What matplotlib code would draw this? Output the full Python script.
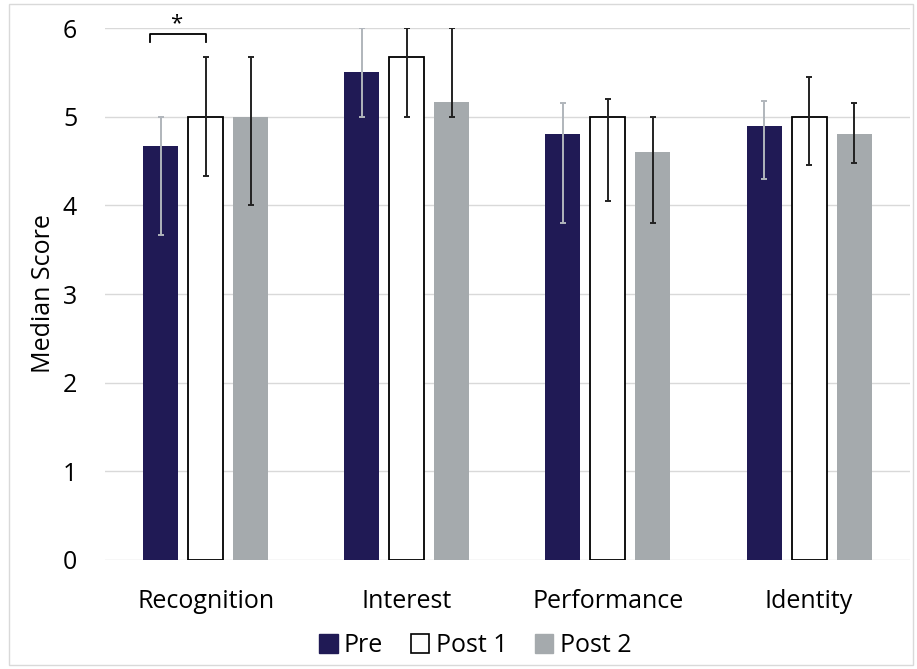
"""Grouped bar chart of median scores before and after the course."""

import matplotlib.pyplot as plt
import numpy as np
from matplotlib.patches import Patch, Rectangle

# Median scores per construct, with the range drawn as error bars.
categories = ["Recognition", "Interest", "Performance", "Identity"]
series = ["Pre", "Post 1", "Post 2"]

pre = [4.67, 5.5, 4.8, 4.9]
pre_low = [3.67, 5.0, 3.8, 4.3]
pre_high = [5.0, 6.0, 5.15, 5.18]

post1 = [5.0, 5.67, 5.0, 5.0]
post1_low = [4.33, 5.0, 4.05, 4.45]
post1_high = [5.67, 6.0, 5.2, 5.45]

post2 = [5.0, 5.17, 4.6, 4.8]
post2_low = [4.0, 5.0, 3.8, 4.48]
post2_high = [5.67, 6.0, 5.0, 5.15]

plt.rcParams["font.family"] = ["Open Sans", "DejaVu Sans"]

NAVY = "#201a55"
GRAY = "#a5aaad"
FS = 18

fig = plt.figure(figsize=(9.17, 6.69), dpi=100)
ax = fig.add_axes([0.1145, 0.163, 0.8775, 0.795])

x = np.arange(len(categories))
width = 0.174
step = 0.224

groups = [
    (pre, pre_low, pre_high, dict(color=NAVY), "#b0b5bb"),
    (post1, post1_low, post1_high,
     dict(color="white", edgecolor="black", linewidth=1.3), "#222222"),
    (post2, post2_low, post2_high, dict(color=GRAY), "#222222"),
]

for i, (vals, lo, hi, style, ecolor) in enumerate(groups):
    pos = x + (i - 1) * step
    vals = np.array(vals)
    yerr = [vals - np.array(lo), np.array(hi) - vals]
    ax.bar(pos, vals, width, zorder=2, **style)
    ax.errorbar(pos, vals, yerr=yerr, fmt="none", ecolor=ecolor,
                elinewidth=1.4, capsize=2.5, capthick=1.4, zorder=3)

# Significance bracket between Pre and Post 1 for Recognition.
bx0, bx1 = x[0] - 0.276, x[0]
ax.plot([bx0, bx0, bx1, bx1], [5.84, 5.93, 5.93, 5.84], color="black",
        linewidth=1.3, clip_on=False, zorder=4)
ax.text((bx0 + bx1) / 2 - 0.01, 5.93, "*", ha="center", va="bottom",
        fontsize=16, clip_on=False)

ax.set_ylim(0, 6)
ax.set_xlim(-0.5, len(categories) - 0.5)
ax.set_yticks(range(7))
ax.set_xticks(x)
ax.set_xticklabels(categories)
ax.tick_params(axis="both", length=0, labelsize=FS)
ax.tick_params(axis="x", pad=21)
ax.tick_params(axis="y", pad=20)
ax.grid(axis="y", color="#d9d9d9", linewidth=1)
ax.set_axisbelow(True)
for s in ax.spines.values():
    s.set_visible(False)
ax.set_ylabel("Median Score", fontsize=FS, labelpad=5)

handles = [
    Patch(facecolor=NAVY, edgecolor=NAVY),
    Patch(facecolor="white", edgecolor="black", linewidth=1.2),
    Patch(facecolor=GRAY, edgecolor=GRAY),
]
fig.legend(handles, series, loc="center", bbox_to_anchor=(0.518, 0.035),
           ncol=3, frameon=False, fontsize=FS, handlelength=0.75,
           handleheight=0.75, handletextpad=0.25, columnspacing=1.1)

# Thin frame around the whole figure.
fig.patches.append(Rectangle((0.0098, 0.006), 0.986, 0.988,
                             transform=fig.transFigure, fill=False,
                             edgecolor="#d9d9d9", linewidth=1))

fig.savefig("out.png", dpi=100)
